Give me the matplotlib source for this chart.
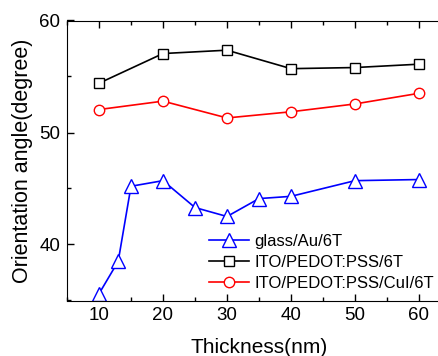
import matplotlib.pyplot as plt
from matplotlib.ticker import MultipleLocator

plt.rcParams['font.family'] = ['Liberation Sans', 'DejaVu Sans']

# data
x_au = [10, 13, 15, 20, 25, 30, 35, 40, 50, 60]
y_au = [35.6, 38.5, 45.2, 45.7, 43.3, 42.5, 44.1, 44.3, 45.7, 45.8]

x_pss = [10, 20, 30, 40, 50, 60]
y_pss = [54.4, 57.05, 57.35, 55.7, 55.8, 56.1]

x_cui = [10, 20, 30, 40, 50, 60]
y_cui = [52.05, 52.8, 51.3, 51.85, 52.55, 53.5]

labels = ["glass/Au/6T", "ITO/PEDOT:PSS/6T", "ITO/PEDOT:PSS/CuI/6T"]

fig = plt.figure(figsize=(4.39, 3.56), dpi=100)
ax = fig.add_axes([67 / 439, 55.5 / 356, 384 / 439, 280 / 356])

ax.plot(x_au, y_au, color="blue", lw=1.2, marker="^", ms=9.5,
        mfc="white", mec="blue", mew=1.0, label=labels[0])
ax.plot(x_pss, y_pss, color="black", lw=1.2, marker="s", ms=7,
        mfc="white", mec="black", mew=1.0, label=labels[1])
ax.plot(x_cui, y_cui, color="red", lw=1.2, marker="o", ms=7.5,
        mfc="white", mec="red", mew=1.0, label=labels[2])

ax.set_xlim(5, 65)
ax.set_ylim(35, 60)
ax.xaxis.set_major_locator(MultipleLocator(10))
ax.xaxis.set_minor_locator(MultipleLocator(5))
ax.yaxis.set_major_locator(MultipleLocator(10))
ax.yaxis.set_minor_locator(MultipleLocator(5))
ax.tick_params(which="both", direction="in", top=True, right=True,
               labelsize=13.5, width=1)
ax.tick_params(which="major", length=5, pad=5)
ax.tick_params(which="minor", length=3)

ax.set_xlabel("Thickness(nm)", fontsize=15, labelpad=10)
ax.set_ylabel("Orientation angle(degree)", fontsize=15.5, labelpad=4)

ax.legend(loc="lower left", bbox_to_anchor=(0.345, 0.0), frameon=False,
          fontsize=12, handlelength=2.4, handletextpad=0.3,
          labelspacing=0.35, borderaxespad=0.2)

fig.savefig("out.png", dpi=100)
